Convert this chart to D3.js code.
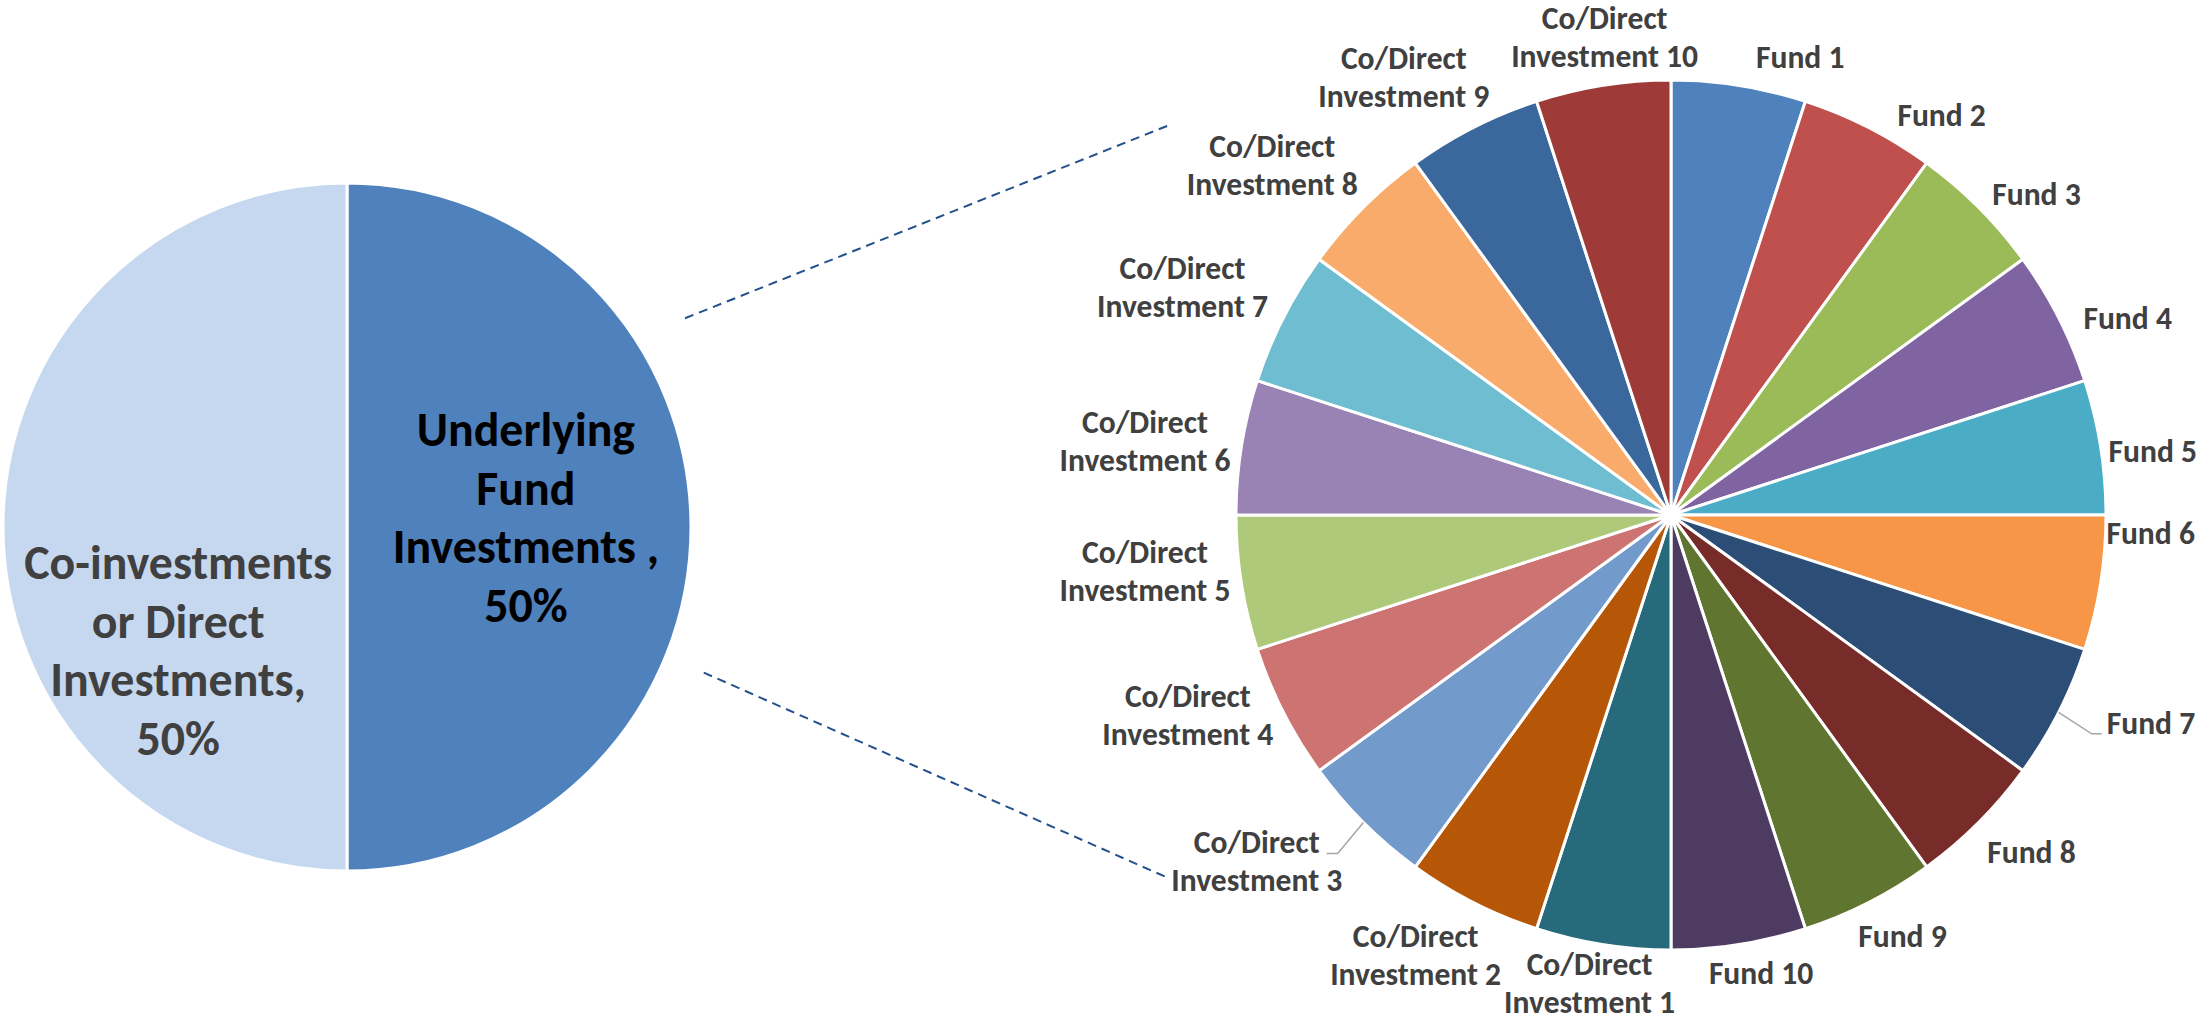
<!DOCTYPE html>
<html><head><meta charset="utf-8">
<script src="https://cdn.jsdelivr.net/npm/d3@7"></script>
<style>html,body{margin:0;padding:0;background:#fff;overflow:hidden}</style>
</head><body>
<svg id="chart" width="2209" height="1023"></svg>
<script>
// ---------- DATA ----------
const mainCategories = ["Underlying Fund Investments", "Co-investments or Direct Investments"];
const mainValues = [50, 50];
const mainLabelLines = [["Underlying", "Fund", "Investments ,", "50%"], ["Co-investments", "or Direct", "Investments,", "50%"]];

const subCategories = ["Fund 1", "Fund 2", "Fund 3", "Fund 4", "Fund 5", "Fund 6", "Fund 7", "Fund 8", "Fund 9", "Fund 10",
  "Co/Direct Investment 1", "Co/Direct Investment 2", "Co/Direct Investment 3", "Co/Direct Investment 4", "Co/Direct Investment 5",
  "Co/Direct Investment 6", "Co/Direct Investment 7", "Co/Direct Investment 8", "Co/Direct Investment 9", "Co/Direct Investment 10"];
const subValues = [5, 5, 5, 5, 5, 5, 5, 5, 5, 5, 5, 5, 5, 5, 5, 5, 5, 5, 5, 5];

// ---------- STYLE / LAYOUT ----------
const mainColors = ["#4F81BD", "#C6D8EF"];
const mainTextColors = ["#000000", "#404040"];
const subColors = ["#4F81BD", "#C0504D", "#9BBB59", "#8064A2", "#4BACC6", "#F79646", "#2C4D75", "#772C2A", "#5F7530", "#4D3B62",
  "#276A7C", "#B65708", "#729ACA", "#CD7371", "#AFC97A", "#9983B5", "#6FBDD1", "#F9AB6B", "#3A679C", "#9E3B38"];
const FONT = "Carlito, Lato, 'Open Sans', sans-serif";
const C1 = [347, 527], R1 = 344;
const C2 = [1671, 515], R2 = 435;
const subLineH = 38, mainLineH = 58.5;
const deg = Math.PI / 180;
// labels that were dragged in the original (polar: clock angle in degrees, distance from centre)
const labelOverrides = {
  "Fund 6": { angle: 92.1, dist: 480 },
  "Fund 7": { angle: 113.4, dist: 523, leader: true },
  "Co/Direct Investment 3": { angle: 230.1, dist: 540, leader: true }
};
// small label placement nudges (px) to mimic the original's collision-avoidance
const labelNudge = {
  "Co/Direct Investment 10": [-11, -11], "Fund 1": [10, -6], "Fund 2": [10, 8], "Fund 3": [-5, 3],
  "Fund 4": [13, 11], "Fund 5": [-3, 8], "Fund 8": [0, 13], "Fund 9": [-4, 13], "Fund 10": [7, 6],
  "Co/Direct Investment 1": [10, 1], "Co/Direct Investment 2": [10, 18], "Co/Direct Investment 4": [0, -15],
  "Co/Direct Investment 5": [0, -18], "Co/Direct Investment 7": [-7, -13], "Co/Direct Investment 8": [-7, -16],
  "Co/Direct Investment 9": [-27, -17]
};
const mainLabelShift = [[0, -10], [10, 123]];
// connector lines (polar relative to the pies)
const connectors = [
  { from: { angle: 58.3, k: 1.155 }, to: { angle: 307.9, k: 1.46 } },
  { from: { angle: 112.2, k: 1.12 }, to: { angle: 234.2, k: 1.426 } }
];

const svg = d3.select("#chart");

function measure(text, size) {
  const t = svg.append("text").attr("font-family", FONT).attr("font-weight", 700)
    .attr("font-size", size).text(text);
  const w = t.node().getComputedTextLength();
  t.remove();
  return w;
}
const subFont = 100 * 171 / measure("Investment 7", 100);
const mainFont = 100 * 308 / measure("Co-investments", 100);
const capRatio = 0.70;

function polar(c, angleDeg, d) {
  const a = angleDeg * deg;
  return [c[0] + Math.sin(a) * d, c[1] - Math.cos(a) * d];
}

// ---------- connectors ----------
connectors.forEach(cn => {
  const p1 = polar(C1, cn.from.angle, R1 * cn.from.k);
  const p2 = polar(C2, cn.to.angle, R2 * cn.to.k);
  svg.append("line").attr("x1", p1[0]).attr("y1", p1[1]).attr("x2", p2[0]).attr("y2", p2[1])
    .attr("stroke", "#24508C").attr("stroke-width", 2).attr("stroke-dasharray", "9,6");
});

// ---------- main pie ----------
const pie = d3.pie().sort(null).value(d => d);
const g1 = svg.append("g").attr("transform", `translate(${C1[0]},${C1[1]})`);
const arcs1 = pie(mainValues);
const arc1 = d3.arc().innerRadius(0).outerRadius(R1);
g1.selectAll("path").data(arcs1).join("path")
  .attr("d", arc1).attr("fill", (d, i) => mainColors[i])
  .attr("stroke", "#fff").attr("stroke-width", 3);

const mainLabelArc = d3.arc().innerRadius(R1 * 0.52).outerRadius(R1 * 0.52);
arcs1.forEach((d, i) => {
  const c = mainLabelArc.centroid(d);
  const cx = c[0] + mainLabelShift[i][0], cy = c[1] + mainLabelShift[i][1];
  const lines = mainLabelLines[i];
  const capH = mainFont * capRatio;
  const hb = capH + (lines.length - 1) * mainLineH;
  const t = g1.append("text").attr("font-family", FONT).attr("font-weight", 700)
    .attr("font-size", mainFont).attr("fill", mainTextColors[i]).attr("text-anchor", "middle");
  lines.forEach((ln, j) => {
    t.append("tspan").attr("x", cx).attr("y", cy - hb / 2 + capH + j * mainLineH).text(ln);
  });
});

// ---------- sub pie ----------
const g2 = svg.append("g").attr("transform", `translate(${C2[0]},${C2[1]})`);
const arcs2 = pie(subValues);
const arc2 = d3.arc().innerRadius(0).outerRadius(R2);
g2.selectAll("path").data(arcs2).join("path")
  .attr("d", arc2).attr("fill", (d, i) => subColors[i])
  .attr("stroke", "#fff").attr("stroke-width", 3);

function splitLabel(name) {
  return name.startsWith("Co/Direct ") ? ["Co/Direct", name.slice(10)] : [name];
}

arcs2.forEach((d, i) => {
  const name = subCategories[i];
  const lines = splitLabel(name);
  const capH = subFont * capRatio;
  const w = d3.max(lines, l => measure(l, subFont));
  const hb = capH + (lines.length - 1) * subLineH;
  const hPad = lines.length === 1 ? capH + 8 : hb;
  const a = (d.startAngle + d.endAngle) / 2;
  const s = Math.sin(a), c = Math.cos(a);
  let cx, cy;
  const ov = labelOverrides[name];
  if (ov) {
    const p = polar([0, 0], ov.angle, ov.dist);
    cx = p[0]; cy = p[1];
  } else {
    const R = R2 + 8;
    const hx = Math.max(-1, Math.min(1, 1.6 * s));
    const topShift = 40 * Math.pow(Math.max(0, c), 4);
    cx = s * R + hx * (w + 6) / 2 + topShift;
    cy = -c * R - c * hPad / 2;
    const nd = labelNudge[name];
    if (nd) { cx += nd[0]; cy += nd[1]; }
  }
  const t = g2.append("text").attr("font-family", FONT).attr("font-weight", 700)
    .attr("font-size", subFont).attr("fill", "#404040").attr("text-anchor", "middle");
  const base0 = cy - hb / 2 + capH;
  lines.forEach((ln, j) => {
    t.append("tspan").attr("x", cx).attr("y", base0 + j * subLineH).text(ln);
  });
  if (ov && ov.leader) {
    const p0 = [Math.sin(a) * R2, -Math.cos(a) * R2];
    const w0 = measure(lines[0], subFont);
    const right = s > 0;
    const endX = right ? cx - w0 / 2 - 5 : cx + w0 / 2 + 7;
    const elbowX = right ? endX - 10 : endX + 11;
    const ay = base0;
    g2.append("path")
      .attr("d", d3.line()([p0, [elbowX, ay], [endX, ay]]))
      .attr("fill", "none").attr("stroke", "#A6A6A6").attr("stroke-width", 1.5);
  }
});
</script>
</body></html>
